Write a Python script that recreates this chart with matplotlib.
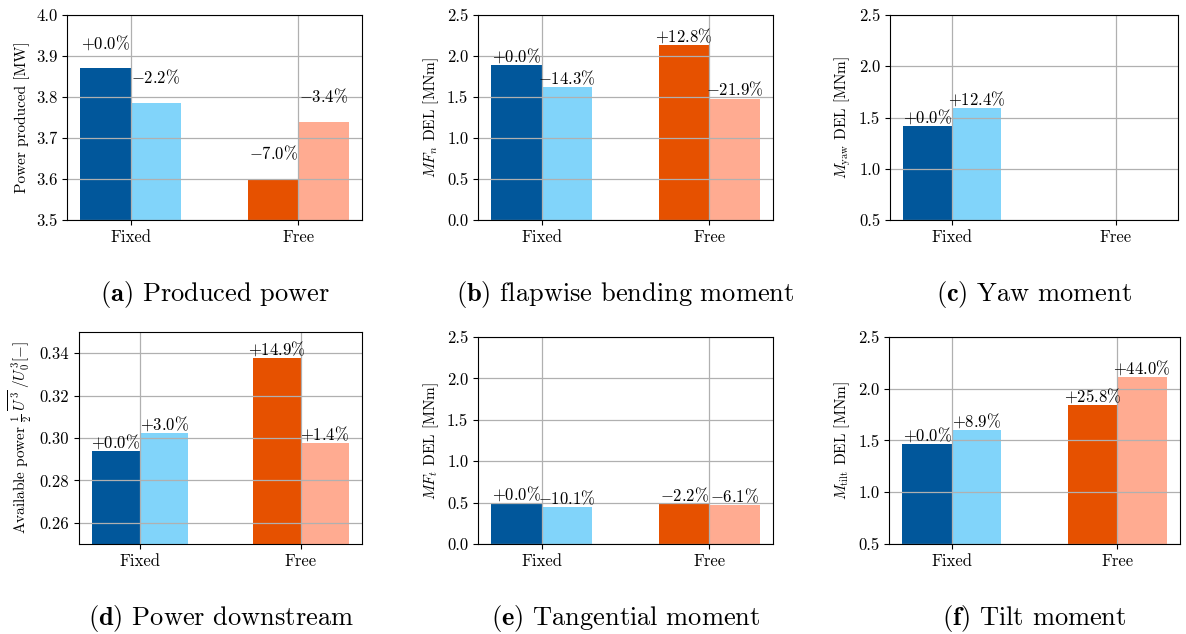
import numpy as np
import matplotlib
matplotlib.use("Agg")
import matplotlib.pyplot as plt

plt.rcParams['font.family'] = 'cmr10'
plt.rcParams['mathtext.fontset'] = 'cm'
plt.rcParams['axes.formatter.use_mathtext'] = True

groups = ['Fixed', 'Free']
colors = [['#01579B', '#81D4FA'], ['#E65100', '#FFAB91']]

# values per panel: [fixed_a, fixed_b, free_a, free_b]
power_vals = [3.870, 3.785, 3.600, 3.739]
power_pct = ['+0.0', '-2.2', '-7.0', '-3.4']
flap_vals = [1.895, 1.624, 2.138, 1.480]
flap_pct = ['+0.0', '-14.3', '+12.8', '-21.9']
yaw_vals = [1.417, 1.593, np.nan, np.nan]
yaw_pct = ['+0.0', '+12.4', '', '']
avail_vals = [0.2937, 0.3025, 0.3375, 0.2978]
avail_pct = ['+0.0', '+3.0', '+14.9', '+1.4']
tang_vals = [0.495, 0.445, 0.484, 0.465]
tang_pct = ['+0.0', '-10.1', '-2.2', '-6.1']
tilt_vals = [1.467, 1.597, 1.845, 2.112]
tilt_pct = ['+0.0', '+8.9', '+25.8', '+44.0']

panels = [
    # vals, pct, ylabel, ylim, yticks, caption, rect, caption y, label offset (pt)
    (power_vals, power_pct, 'Power produced [MW]', (3.5, 4.0), np.arange(3.5, 4.01, 0.1),
     r'$\mathbf{(a)}$ Produced power', [0.0565, 0.653, 0.2487, 0.3233], 0.535, 12),
    (flap_vals, flap_pct, r'$MF_n$ DEL [MNm]', (0, 2.5), np.arange(0, 2.51, 0.5),
     r'$\mathbf{(b)}$ flapwise bending moment', [0.403, 0.653, 0.2487, 0.3233], 0.535, 0),
    (yaw_vals, yaw_pct, r'$M_{\mathrm{yaw}}$ DEL [MNm]', (0.5, 2.5), np.arange(0.5, 2.51, 0.5),
     r'$\mathbf{(c)}$ Yaw moment', [0.7504, 0.653, 0.2428, 0.3233], 0.535, 0),
    (avail_vals, avail_pct, r'Available power $\frac{1}{2}\;\overline{U^3}\;/U_0^3[-]$', (0.25, 0.35),
     np.arange(0.26, 0.341, 0.02),
     r'$\mathbf{(d)}$ Power downstream', [0.0666, 0.142, 0.2386, 0.3344], 0.025, 0),
    (tang_vals, tang_pct, r'$MF_t$ DEL [MNm]', (0, 2.5), np.arange(0, 2.51, 0.5),
     r'$\mathbf{(e)}$ Tangential moment', [0.403, 0.142, 0.2487, 0.3265], 0.025, 0),
    (tilt_vals, tilt_pct, r'$M_{\mathrm{tilt}}$ DEL [MNm]', (0.5, 2.5), np.arange(0.5, 2.51, 0.5),
     r'$\mathbf{(f)}$ Tilt moment', [0.7496, 0.142, 0.2454, 0.3265], 0.025, 0),
]

fig = plt.figure(figsize=(11.86, 6.34), dpi=100)
w = 0.3
x = np.arange(len(groups))

for vals, pct, ylab, ylim, yt, cap, rect, capy, off in panels:
    ax = fig.add_axes(rect)
    for g in range(2):
        for k in range(2):
            v = vals[2 * g + k]
            if np.isnan(v):
                continue
            xp = x[g] + (k - 0.5) * w
            ax.bar(xp, v, w, color=colors[g][k], zorder=1)
            ax.annotate('$' + pct[2 * g + k] + r'\%$', (xp, v), xytext=(0, off),
                        textcoords='offset points', ha='center', va='bottom', fontsize=12)
    ax.set_xlim(-0.38, 1.38)
    ax.set_ylim(*ylim)
    ax.set_yticks(yt)
    if ylim[1] < 1:
        ax.set_yticklabels(['%.2f' % t for t in yt])
    else:
        ax.set_yticklabels(['%.1f' % t for t in yt])
    ax.set_xticks(x)
    ax.set_xticklabels(groups)
    ax.tick_params(labelsize=12)
    ax.set_ylabel(ylab, fontsize=11)
    ax.grid(True, color='#b0b0b0', linewidth=0.9)
    cx = rect[0] + rect[2] / 2
    fig.text(cx, capy, cap, ha='center', va='center', fontsize=19)

fig.savefig('out.png', dpi=100)
